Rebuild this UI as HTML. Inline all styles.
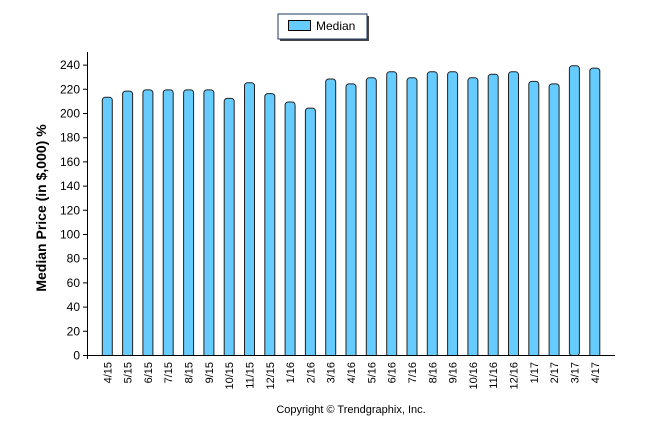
<!DOCTYPE html>
<html><head><meta charset="utf-8"><style>body{margin:0;background:#fff}svg{display:block}text{font-family:"Liberation Sans",sans-serif}</style></head><body>
<svg width="646" height="434" viewBox="0 0 646 434" xmlns="http://www.w3.org/2000/svg">
<defs><clipPath id="c"><rect x="80" y="0" width="560" height="355"/></clipPath></defs>
<rect x="280" y="16" width="89" height="25" fill="#444"/>
<rect x="278" y="14" width="89" height="25" fill="#fff" stroke="#1f3a5f" stroke-width="1"/>
<rect x="288.5" y="20.5" width="22" height="10" fill="#66ccff" stroke="#000"/>
<text x="316" y="30" font-size="12" fill="#000">Median</text>
<g clip-path="url(#c)" fill="#66ccff" stroke="#222" stroke-width="1">
<rect x="102.3" y="97.2" width="10" height="270" rx="3"/>
<rect x="122.6" y="91.1" width="10" height="270" rx="3"/>
<rect x="142.9" y="89.9" width="10" height="270" rx="3"/>
<rect x="163.2" y="89.9" width="10" height="270" rx="3"/>
<rect x="183.6" y="89.9" width="10" height="270" rx="3"/>
<rect x="203.9" y="89.9" width="10" height="270" rx="3"/>
<rect x="224.2" y="98.4" width="10" height="270" rx="3"/>
<rect x="244.5" y="82.7" width="10" height="280" rx="3"/>
<rect x="264.8" y="93.6" width="10" height="270" rx="3"/>
<rect x="285.1" y="102.0" width="10" height="260" rx="3"/>
<rect x="305.4" y="108.1" width="10" height="260" rx="3"/>
<rect x="325.7" y="79.0" width="10" height="280" rx="3"/>
<rect x="346.0" y="83.9" width="10" height="280" rx="3"/>
<rect x="366.3" y="77.8" width="10" height="280" rx="3"/>
<rect x="386.7" y="71.8" width="10" height="290" rx="3"/>
<rect x="407.0" y="77.8" width="10" height="280" rx="3"/>
<rect x="427.3" y="71.8" width="10" height="290" rx="3"/>
<rect x="447.6" y="71.8" width="10" height="290" rx="3"/>
<rect x="467.9" y="77.8" width="10" height="280" rx="3"/>
<rect x="488.2" y="74.2" width="10" height="290" rx="3"/>
<rect x="508.5" y="71.8" width="10" height="290" rx="3"/>
<rect x="528.8" y="81.4" width="10" height="280" rx="3"/>
<rect x="549.1" y="83.9" width="10" height="280" rx="3"/>
<rect x="569.4" y="65.7" width="10" height="290" rx="3"/>
<rect x="589.8" y="68.1" width="10" height="290" rx="3"/>
</g>
<g stroke="#000" stroke-width="1">
<line x1="87.5" y1="52" x2="87.5" y2="359"/>
<line x1="87" y1="355.5" x2="615" y2="355.5"/>
<path d="M83 355.5h4M83 331.3h4M83 307.1h4M83 282.9h4M83 258.7h4M83 234.5h4M83 210.3h4M83 186.1h4M83 161.9h4M83 137.7h4M83 113.5h4M83 89.3h4M83 65.1h4"/>
</g>
<g font-size="12" text-anchor="end" fill="#000">
<text x="80" y="359.5">0</text><text x="80" y="335.3">20</text><text x="80" y="311.1">40</text><text x="80" y="286.9">60</text><text x="80" y="262.7">80</text><text x="80" y="238.5">100</text><text x="80" y="214.3">120</text><text x="80" y="190.1">140</text><text x="80" y="165.9">160</text><text x="80" y="141.7">180</text><text x="80" y="117.5">200</text><text x="80" y="93.3">220</text><text x="80" y="69.1">240</text>
</g>
<text transform="translate(46,208) rotate(-90)" font-size="14" font-weight="bold" text-anchor="middle" fill="#000">Median Price (in $,000) %</text>
<g font-size="11" text-anchor="end" fill="#000">
<text transform="translate(111.3,362) rotate(-90)">4/15</text>
<text transform="translate(131.6,362) rotate(-90)">5/15</text>
<text transform="translate(151.9,362) rotate(-90)">6/15</text>
<text transform="translate(172.2,362) rotate(-90)">7/15</text>
<text transform="translate(192.6,362) rotate(-90)">8/15</text>
<text transform="translate(212.9,362) rotate(-90)">9/15</text>
<text transform="translate(233.2,362) rotate(-90)">10/15</text>
<text transform="translate(253.5,362) rotate(-90)">11/15</text>
<text transform="translate(273.8,362) rotate(-90)">12/15</text>
<text transform="translate(294.1,362) rotate(-90)">1/16</text>
<text transform="translate(314.4,362) rotate(-90)">2/16</text>
<text transform="translate(334.7,362) rotate(-90)">3/16</text>
<text transform="translate(355.0,362) rotate(-90)">4/16</text>
<text transform="translate(375.3,362) rotate(-90)">5/16</text>
<text transform="translate(395.7,362) rotate(-90)">6/16</text>
<text transform="translate(416.0,362) rotate(-90)">7/16</text>
<text transform="translate(436.3,362) rotate(-90)">8/16</text>
<text transform="translate(456.6,362) rotate(-90)">9/16</text>
<text transform="translate(476.9,362) rotate(-90)">10/16</text>
<text transform="translate(497.2,362) rotate(-90)">11/16</text>
<text transform="translate(517.5,362) rotate(-90)">12/16</text>
<text transform="translate(537.8,362) rotate(-90)">1/17</text>
<text transform="translate(558.1,362) rotate(-90)">2/17</text>
<text transform="translate(578.4,362) rotate(-90)">3/17</text>
<text transform="translate(598.8,362) rotate(-90)">4/17</text>
</g>
<text x="351" y="413" font-size="11" text-anchor="middle" fill="#000">Copyright © Trendgraphix, Inc.</text>
</svg>
</body></html>
